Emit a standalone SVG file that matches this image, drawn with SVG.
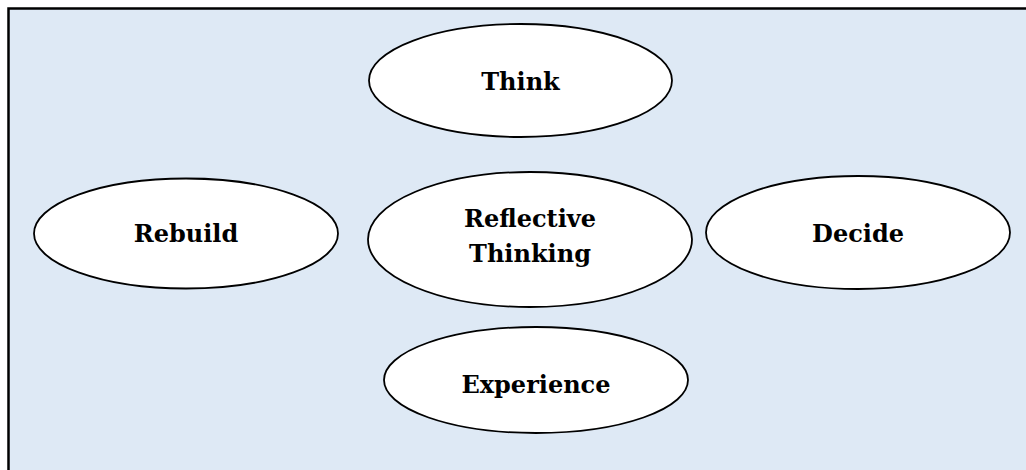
<svg xmlns="http://www.w3.org/2000/svg" width="1026" height="470" viewBox="0 0 1026 470">
  <style>
    .node ellipse { fill: #ffffff; stroke: #000000; stroke-width: 1.8; }
    .node text { font-family: "DejaVu Serif", "Liberation Serif", serif; font-weight: bold; font-size: 24px; fill: #000000; text-anchor: middle; }
  </style>
  <rect x="8.5" y="8.5" width="1030" height="480" fill="#DEE9F5" stroke="#000000" stroke-width="2.5"/>
  <g id="connectors"></g>
  <g id="think" class="node">
    <ellipse cx="520.5" cy="80.5" rx="151.5" ry="56.5"/>
    <text x="520.5" y="90">Think</text>
  </g>
  <g id="reflective-thinking" class="node">
    <ellipse cx="530" cy="239.5" rx="162" ry="67.5"/>
    <text x="530" y="227">Reflective</text>
    <text x="530" y="262">Thinking</text>
  </g>
  <g id="rebuild" class="node">
    <ellipse cx="186" cy="233.5" rx="152" ry="55"/>
    <text x="186" y="242">Rebuild</text>
  </g>
  <g id="decide" class="node">
    <ellipse cx="858" cy="232.5" rx="152" ry="56.5"/>
    <text x="858" y="242">Decide</text>
  </g>
  <g id="experience" class="node">
    <ellipse cx="536" cy="380" rx="152" ry="53"/>
    <text x="536" y="393">Experience</text>
  </g>
</svg>
